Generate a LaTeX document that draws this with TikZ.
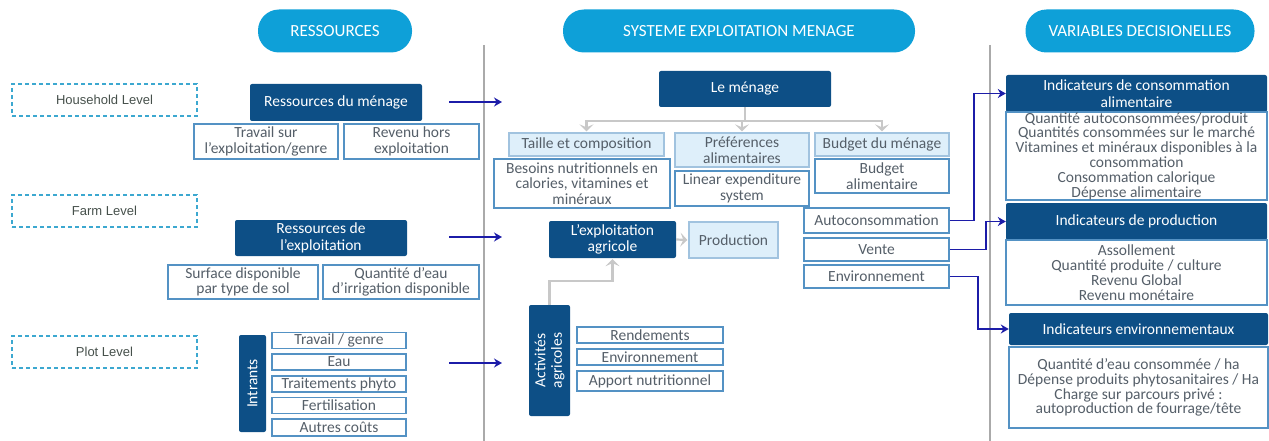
\documentclass[tikz,border=0pt]{standalone}
\usepackage{fontspec}
\setmainfont{Carlito}
\newfontfamily\levelfont{Liberation Sans}
\usetikzlibrary{arrows.meta}
\definecolor{pillblue}{RGB}{14,160,216}
\definecolor{darkblue}{RGB}{13,79,134}
\definecolor{edgeblue}{RGB}{84,146,196}
\definecolor{lightfill}{RGB}{222,239,250}
\definecolor{textgray}{RGB}{85,95,105}
\definecolor{levelgray}{RGB}{70,80,75}
\definecolor{dashblue}{RGB}{60,168,208}
\definecolor{linkblue}{RGB}{28,28,168}
\definecolor{linkgray}{RGB}{200,200,200}
\definecolor{sepgray}{RGB}{170,170,170}
\begin{document}
\begin{tikzpicture}
[x=1pt,y=-1pt,
  pilldecorate/.style={shape=rectangle,rounded corners=21pt,fill=pillblue,text=white,inner sep=0pt,font=\fontsize{17}{18}\selectfont},%
  leveldecorate/.style={shape=rectangle,draw=dashblue,line width=1.6pt,dash pattern=on 4pt off 3pt,text=levelgray,inner sep=0pt,font=\levelfont\fontsize{13}{15}\selectfont},%
  darkdecorate/.style={shape=rectangle,rounded corners=2pt,fill=darkblue,text=white,align=center,inner sep=0pt,font=\fontsize{15.5}{16.5}\selectfont},%
  boxdecorate/.style={shape=rectangle,draw=edgeblue,line width=1.3pt,fill=white,text=textgray,align=center,inner sep=0pt,font=\fontsize{15.5}{15.5}\selectfont},%
  bodydecorate/.style={boxdecorate,font=\fontsize{15.5}{14.8}\selectfont},%
  lightdecorate/.style={boxdecorate,fill=lightfill,draw=edgeblue!55},%
  linkdecorate/.style={-{Stealth[length=8pt,width=9pt]},line width=1.8pt,draw=linkblue},%
  flowdecorate/.style={-{Stealth[length=7pt,width=14pt,inset=3pt]},line width=2.2pt,draw=linkgray,shorten >=1pt}]
\useasboundingbox (0,0) rectangle (1269,441);
%% separators
\draw[sepgray,line width=2pt] (484,45) -- (484,441);
\draw[sepgray,line width=2pt] (990,45) -- (990,441);
%% column headers
\foreach \nodename/\x/\y/\w/\txt in {
  res/335/31/154/RESSOURCES, sys/739/31/352/SYSTEME EXPLOITATION MENAGE,
  var/1140/31/229/VARIABLES DECISIONELLES}
{
  \node (\nodename) at (\x,\y) [pilldecorate,minimum width=\w,minimum height=43] {\txt};
}
%% levels
\foreach \nodename/\y/\txt in {
  household/100/Household Level, farm/211/Farm Level, plot/352/Plot Level}
{
  \node (\nodename) at (104.5,\y) [leveldecorate,minimum width=185,minimum height=32] {\txt};
}
%% dark boxes
\foreach \nodename/\x/\y/\w/\h/\txt in {
  resmen/336/102.5/172/37/Ressources du ménage,
  resexp/321/238/172/36/Ressources de\\l'exploitation,
  menage/745/89/172/36/Le ménage,
  exploit/612.5/239.5/127/37/L'exploitation\\agricole,
  indcons/1136.5/93.5/261/37/Indicateurs de consommation\\alimentaire,
  indprod/1136.5/221.5/261/37/Indicateurs de production,
  indenv/1138.5/329/259/32/Indicateurs environnementaux}
{
  \node (\nodename) at (\x,\y) [darkdecorate,minimum width=\w,minimum height=\h] {\txt};
}
\node (intrants) at (252.5,383.5) [darkdecorate,minimum width=97,minimum height=27,rotate=90] {Intrants};
\node (activ) at (549.5,360.5) [darkdecorate,minimum width=111,minimum height=41,rotate=90] {Activités\\agricoles};
%% outlined boxes
\foreach \nodename/\x/\y/\w/\h/\txt in {
  travail/266/141.5/144/35/{Travail sur\\l'exploitation/genre},
  revenu/411.5/141.5/135/35/Revenu hors\\exploitation,
  surface/243/282/150/34/Surface disponible\\par type de sol,
  quantite/401/282/156/34/Quantité d'eau\\d'irrigation disponible,
  travgen/339/340.5/134/16/{Travail / genre},
  eau/339/362/134/16/Eau,
  phyto/339/384/134/16/Traitements phyto,
  fertil/339/405.5/134/16/Fertilisation,
  autres/339/427.5/134/17/Autres coûts,
  besoins/582/183.5/176/49/{Besoins nutritionnels en\\calories, vitamines et\\minéraux},
  linear/742/188.5/134/35/Linear expenditure\\system,
  budgetal/882/176/134/34/Budget\\alimentaire,
  auto/876.5/220.5/145/25/Autoconsommation,
  vente/876.5/249.5/145/23/Vente,
  envir/876.5/276.5/145/23/Environnement,
  rendem/650/335/146/16/Rendements,
  envact/650/357/146/16/Environnement,
  apport/650/381/146/20/Apport nutritionnel}
{
  \node (\nodename) at (\x,\y) [boxdecorate,minimum width=\w,minimum height=\h] {\txt};
}
%% indicator lists
\foreach \nodename/\x/\y/\w/\h/\txt in {
  bodycons/1136.5/156/261/88/{Quantité autoconsommées/produit\\Quantités consommées sur le marché\\Vitamines et minéraux disponibles à la\\consommation\\Consommation calorique\\Dépense alimentaire},
  bodyprod/1136.5/272.5/261/65/{Assollement\\Quantité produite / culture\\Revenu Global\\Revenu monétaire},
  bodyenv/1138.5/387.5/259/81/{Quantité d'eau consommée / ha\\Dépense produits phytosanitaires / Ha\\Charge sur parcours privé :\\autoproduction de fourrage/tête}}
{
  \node (\nodename) at (\x,\y) [bodydecorate,minimum width=\w,minimum height=\h] {\txt};
}
%% light boxes
\foreach \nodename/\x/\y/\w/\h/\txt in {
  taille/586.5/144.5/155/23/Taille et composition,
  pref/742/150/134/34/Préférences\\alimentaires,
  budgetmen/882/144.5/134/23/Budget du ménage,
  product/733.5/240/89/36/Production}
{
  \node (\nodename) at (\x,\y) [lightdecorate,minimum width=\w,minimum height=\h] {\txt};
}
%% free ends of the level arrows
\foreach \pointname/\x/\y in {
  hhout/449/102, hhin/502/102, fmout/449/237, fmin/502/237, ptout/449/363, ptin/502/363}
{
  \coordinate (\pointname) at (\x,\y);
}
%% edges or lines
\path
\foreach \startnode/\endnode in {hhout/hhin, fmout/fmin, ptout/ptin} {
  (\startnode) edge[linkdecorate] (\endnode)
};
\draw[linkdecorate] (auto.east) -- ++(24,0) |- (indcons.west);
\draw[linkdecorate] (vente.east) -- ++(36,0) |- (indprod.west);
\draw[linkdecorate] (envir.east) -- ++(28,0) |- (indenv.west);
\draw[line width=2.2pt,linkgray] (menage.south) -- ++(0,14) coordinate (split);
\foreach \endnode in {taille, pref, budgetmen} {
  \draw[flowdecorate] (split) -| (\endnode.north);
}
\draw[flowdecorate] (exploit.east) -- (product.west);
\draw[flowdecorate] (activ.east) -- ++(0,-24) -| (exploit.south);
\end{tikzpicture}
\end{document}
